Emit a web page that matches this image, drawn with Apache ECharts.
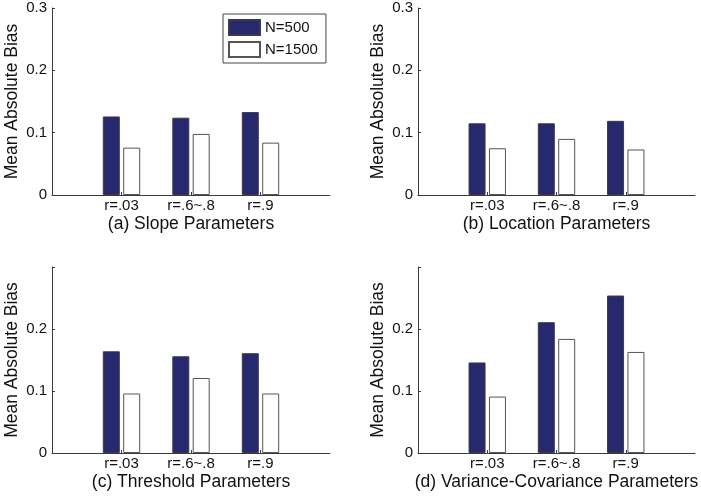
<!DOCTYPE html>
<html>
<head>
<meta charset="utf-8">
<script src="https://cdn.jsdelivr.net/npm/echarts@6/dist/echarts.min.js"></script>
<style>
html,body{margin:0;padding:0;background:#fff;}
#chart{width:701px;height:496px;}
</style>
</head>
<body>
<div id="chart"></div>
<script>
// ---- data ----
const categories = ['', 'r=.03', 'r=.6~.8', 'r=.9', ''];
const seriesNames = ['N=500', 'N=1500'];
const panelTitles = ['(a) Slope Parameters', '(b) Location Parameters', '(c) Threshold Parameters', '(d) Variance-Covariance Parameters'];
const slopeN500 = [0.126, 0.124, 0.133];
const slopeN1500 = [0.076, 0.098, 0.084];
const locationN500 = [0.115, 0.115, 0.119];
const locationN1500 = [0.075, 0.090, 0.073];
const thresholdN500 = [0.164, 0.156, 0.161];
const thresholdN1500 = [0.096, 0.121, 0.096];
const varcovN500 = [0.146, 0.211, 0.254];
const varcovN1500 = [0.091, 0.184, 0.163];
const yTicks = [0, 0.1, 0.2, 0.3];

const panels = [
  {a: slopeN500, b: slopeN1500, showTop: true},
  {a: locationN500, b: locationN1500, showTop: true},
  {a: thresholdN500, b: thresholdN1500, showTop: false},
  {a: varcovN500, b: varcovN1500, showTop: false}
];

const FONT = "'Liberation Sans', Arial, Helvetica, sans-serif";
const AXIS_COLOR = '#3a3a3a';
const grids = [
  {left: 52, top: 8, width: 278, height: 187},
  {left: 418, top: 8, width: 277, height: 187},
  {left: 52, top: 267, width: 278, height: 186},
  {left: 418, top: 267, width: 277, height: 186}
];

const pad = arr => [null].concat(arr).concat([null]);

const xAxes = [], yAxes = [], series = [];
panels.forEach((p, i) => {
  xAxes.push({
    gridIndex: i, type: 'category', data: categories, boundaryGap: false,
    name: panelTitles[i], nameLocation: 'middle', nameGap: 20,
    nameTextStyle: {fontSize: 17.5, color: '#111', fontFamily: FONT},
    axisLine: {lineStyle: {color: AXIS_COLOR, width: 1}},
    axisTick: {show: true, inside: true, length: 3, interval: (idx) => idx >= 1 && idx <= 3, lineStyle: {color: AXIS_COLOR}},
    axisLabel: {fontSize: 15, color: '#111', fontFamily: FONT, margin: 3, interval: 0},
    splitLine: {show: false}
  });
  yAxes.push({
    gridIndex: i, type: 'value', min: yTicks[0], max: yTicks[yTicks.length - 1], interval: 0.1,
    name: 'Mean Absolute Bias', nameLocation: 'middle', nameGap: 31,
    nameTextStyle: {fontSize: 17.5, color: '#111', fontFamily: FONT},
    axisLine: {show: true, lineStyle: {color: AXIS_COLOR, width: 1}},
    axisTick: {show: true, inside: true, length: 3, lineStyle: {color: AXIS_COLOR}},
    axisLabel: {
      fontSize: 15, color: '#111', fontFamily: FONT, margin: 5,
      formatter: v => {
        if (!p.showTop && v > 0.25) return '';
        return v === 0 ? '0' : String(Math.round(v * 10) / 10);
      }
    },
    splitLine: {show: false}
  });
  series.push({
    name: seriesNames[0], type: 'bar', xAxisIndex: i, yAxisIndex: i,
    data: pad(p.a), barWidth: 17, barGap: '20%',
    itemStyle: {color: '#27296e', borderColor: '#3a3a4a', borderWidth: 1},
    emphasis: {disabled: true}, animation: false
  });
  series.push({
    name: seriesNames[1], type: 'bar', xAxisIndex: i, yAxisIndex: i,
    data: pad(p.b), barWidth: 17, barGap: '20%',
    itemStyle: {color: '#ffffff', borderColor: '#555555', borderWidth: 1},
    emphasis: {disabled: true}, animation: false
  });
});

const chart = echarts.init(document.getElementById('chart'), null, {renderer: 'canvas'});
chart.setOption({
  animation: false,
  backgroundColor: '#ffffff',
  grid: grids,
  xAxis: xAxes,
  yAxis: yAxes,
  legend: {
    data: seriesNames, orient: 'vertical', left: 223, top: 14,
    padding: [5, 8, 5, 5], itemGap: 5, itemWidth: 31, itemHeight: 15,
    borderColor: '#444', borderWidth: 1, backgroundColor: '#fff',
    icon: 'rect',
    textStyle: {fontSize: 15, color: '#111', fontFamily: FONT},
    selectedMode: false
  },
  series: series
});
</script>
</body>
</html>
